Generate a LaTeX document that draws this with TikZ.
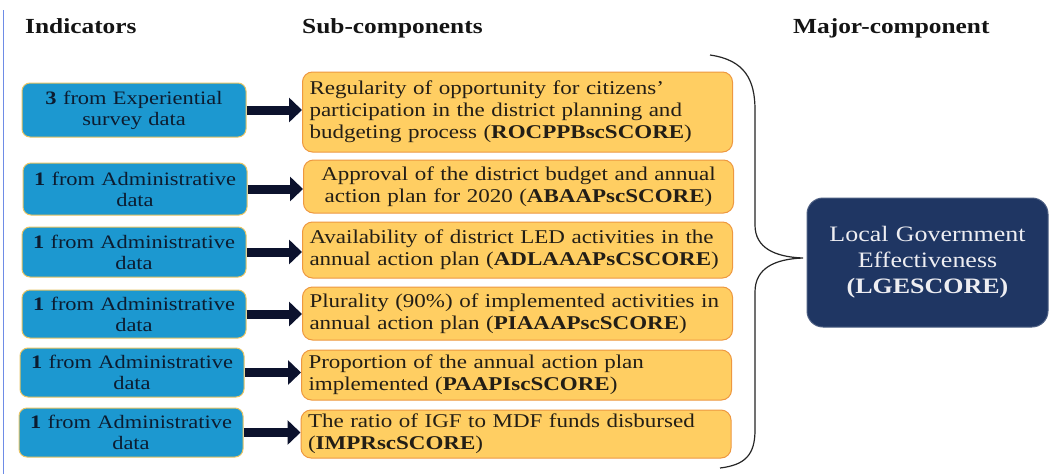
\documentclass[tikz,border=0pt]{standalone}
\usepackage{fontspec}
\setmainfont{Liberation Serif}[FakeStretch=1.18]
\usetikzlibrary{arrows.meta}

\definecolor{indblue}{RGB}{28,152,208}
\definecolor{indedge}{RGB}{232,196,100}
\definecolor{indtext}{RGB}{12,28,48}
\definecolor{subfill}{RGB}{255,206,98}
\definecolor{subedge}{RGB}{238,152,64}
\definecolor{subtext}{RGB}{35,30,22}
\definecolor{majfill}{RGB}{31,54,99}
\definecolor{majtext}{RGB}{238,238,242}
\definecolor{arrowink}{RGB}{12,18,45}
\definecolor{rulecol}{RGB}{110,140,230}
\definecolor{headtext}{RGB}{20,20,20}

\hyphenpenalty=10000
\exhyphenpenalty=10000

\begin{document}
\begin{tikzpicture}[x=1pt,y=-1pt,
  indbox/.style={draw=indedge, line width=1pt, fill=indblue, rounded corners=8pt,
    minimum width=224pt, text width=218pt, align=center, inner sep=0pt,
    font=\fontsize{19}{21}\selectfont, text=indtext},
  subbox/.style={draw=subedge, line width=1pt, fill=subfill, rounded corners=10pt,
    minimum width=430pt, text width=416pt, align=left, inner xsep=7pt, inner ysep=0pt,
    font=\fontsize{19.5}{22}\selectfont, text=subtext},
  majbox/.style={draw=majfill!80!white, line width=1pt, fill=majfill, rounded corners=16pt,
    minimum width=241pt, minimum height=129pt, text width=232pt, align=center,
    inner sep=0pt, font=\fontsize{22}{26}\selectfont, text=majtext},
  header/.style={anchor=base west, inner sep=0pt, text=headtext,
    font=\fontsize{21.5}{24}\selectfont\bfseries},
  feed/.style={arrowink, line width=9pt, -{Triangle[length=13pt,width=24pt]}},
  bracestroke/.style={line width=1.2pt, black!85}
]
% canvas
\fill[white] (0,0) rectangle (1063,474);
\useasboundingbox (0,0) rectangle (1063,474);
\draw[rulecol, line width=1pt] (3,10) -- (3,474);

% column headings
\node[header] (hInd) at (25,33) {Indicators};
\node[header] (hSub) at (302,33) {Sub-components};
\node[header] (hMaj) at (793,33) {Major-component};

% indicator boxes
\node[indbox, minimum height=54pt] (b1) at (134,110) {\textbf{3} from Experiential\\survey data};
\node[indbox, minimum height=52pt] (b2) at (135,189) {\textbf{1} from Administrative\\data};
\node[indbox, minimum height=50pt] (b3) at (134,252) {\textbf{1} from Administrative\\data};
\node[indbox, minimum height=48pt] (b4) at (134,314) {\textbf{1} from Administrative\\data};
\node[indbox, minimum height=49pt] (b5) at (132,372.5) {\textbf{1} from Administrative\\data};
\node[indbox, minimum height=49pt] (b6) at (131,432.5) {\textbf{1} from Administrative\\data};

% sub-component boxes
\node[subbox, minimum height=80pt] (y1) at (517.5,112) {Regularity of opportunity for citizens'\\participation in the district planning and\\budgeting process (\textbf{ROCPPBscSCORE})};
\node[subbox, minimum height=53pt, align=center] (y2) at (518.5,186.5) {Approval of the district budget and annual\\action plan for 2020 (\textbf{ABAAPscSCORE})};
\node[subbox, minimum height=56pt] (y3) at (517.5,250) {Availability of district LED activities in the\\annual action plan (\textbf{ADLAAAPsCSCORE})};
\node[subbox, minimum height=53pt] (y4) at (517.5,313.5) {Plurality (90\%) of implemented activities in\\annual action plan (\textbf{PIAAAPscSCORE})};
\node[subbox, minimum height=50pt] (y5) at (516.5,375) {Proportion of the annual action plan\\implemented (\textbf{PAAPIscSCORE})};
\node[subbox, minimum height=48pt] (y6) at (516,434) {The ratio of IGF to MDF funds disbursed\\(\textbf{IMPRscSCORE})};

% major component
\node[majbox] (lge) at (927.5,262.5) {Local Government\\Effectiveness\\\textbf{(LGESCORE)}};

% indicator -> sub-component arrows
\foreach \i in {1,...,6}
  \draw[feed] (b\i.east) -- (b\i.east -| y\i.west);

% brace gathering the sub-components
\coordinate (tip) at (803,258);
\draw[bracestroke] (710,55) .. controls (745,60) and (755,80) .. (755,110)
  -- (755,225) .. controls (755,248) and (775,257) .. (tip)
  .. controls (775,259) and (755,268) .. (755,292)
  -- (755,430) .. controls (755,455) and (745,465) .. (720,468);
\end{tikzpicture}
\end{document}
